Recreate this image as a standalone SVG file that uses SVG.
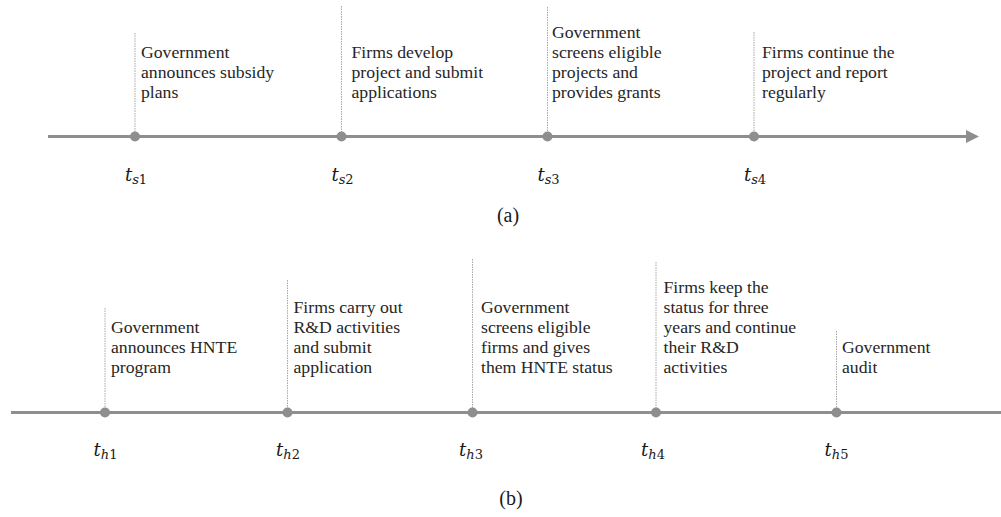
<svg xmlns="http://www.w3.org/2000/svg" width="1001" height="517" viewBox="0 0 1001 517">
<style>
.axis{stroke:#8e8e8e;stroke-width:3;fill:none}
.dot{fill:#8e8e8e}
.guide{stroke:#a8a8a8;stroke-width:1;stroke-dasharray:1.5 1;fill:none}
.lbl{font-family:"Liberation Serif","Times New Roman",serif;font-size:17.7px;fill:#262626}
.math{font-family:"DejaVu Serif",serif;font-size:18px;font-style:italic;fill:#1a1a1a}
.sub{font-size:13px}
.cap{font-family:"Liberation Serif","Times New Roman",serif;font-size:20px;fill:#1a1a1a;text-anchor:middle}
</style>
<defs>
<marker id="arr" markerWidth="14" markerHeight="14" refX="0" refY="6.5" orient="auto" markerUnits="userSpaceOnUse">
<path d="M0,0 L13,6.5 L0,13 Z" fill="#8e8e8e"/>
</marker>
</defs>
<g id="connectors">
<line class="axis" x1="48" y1="136.5" x2="966" y2="136.5" marker-end="url(#arr)"/>
<line class="axis" x1="11" y1="412.5" x2="1001" y2="412.5"/>
</g>
<g id="ts1">
<line class="guide" x1="135" y1="33" x2="135" y2="136"/>
<circle class="dot" cx="135" cy="136.5" r="5"/>
<text class="lbl"><tspan x="141" y="57.5">Government</tspan><tspan x="141" y="77.5">announces subsidy</tspan><tspan x="141" y="97.5">plans</tspan></text>
<text class="math" x="136" y="180.5" text-anchor="middle">t<tspan class="sub" dy="3">s<tspan font-style="normal">1</tspan></tspan></text>
</g>
<g id="ts2">
<line class="guide" x1="341.5" y1="6" x2="341.5" y2="136"/>
<circle class="dot" cx="341.5" cy="136.5" r="5"/>
<text class="lbl"><tspan x="351.5" y="57.5">Firms develop</tspan><tspan x="351.5" y="77.5">project and submit</tspan><tspan x="351.5" y="97.5">applications</tspan></text>
<text class="math" x="342.5" y="180.5" text-anchor="middle">t<tspan class="sub" dy="3">s<tspan font-style="normal">2</tspan></tspan></text>
</g>
<g id="ts3">
<line class="guide" x1="547.5" y1="7" x2="547.5" y2="136"/>
<circle class="dot" cx="547.5" cy="136.5" r="5"/>
<text class="lbl"><tspan x="552" y="37.5">Government</tspan><tspan x="552" y="57.5">screens eligible</tspan><tspan x="552" y="77.5">projects and</tspan><tspan x="552" y="97.5">provides grants</tspan></text>
<text class="math" x="548.5" y="180.5" text-anchor="middle">t<tspan class="sub" dy="3">s<tspan font-style="normal">3</tspan></tspan></text>
</g>
<g id="ts4">
<line class="guide" x1="754" y1="32" x2="754" y2="136"/>
<circle class="dot" cx="754" cy="136.5" r="5"/>
<text class="lbl"><tspan x="762" y="57.5">Firms continue the</tspan><tspan x="762" y="77.5">project and report</tspan><tspan x="762" y="97.5">regularly</tspan></text>
<text class="math" x="755" y="180.5" text-anchor="middle">t<tspan class="sub" dy="3">s<tspan font-style="normal">4</tspan></tspan></text>
</g>
<text id="cap-a" class="cap" x="508" y="222">(a)</text>
<g id="th1">
<line class="guide" x1="105" y1="308" x2="105" y2="412"/>
<circle class="dot" cx="105" cy="412.5" r="5"/>
<text class="lbl"><tspan x="111" y="332.5">Government</tspan><tspan x="111" y="352.5">announces HNTE</tspan><tspan x="111" y="372.5">program</tspan></text>
<text class="math" x="105.5" y="455.5" text-anchor="middle">t<tspan class="sub" dy="3">h<tspan font-style="normal">1</tspan></tspan></text>
</g>
<g id="th2">
<line class="guide" x1="287.5" y1="280" x2="287.5" y2="412"/>
<circle class="dot" cx="287.5" cy="412.5" r="5"/>
<text class="lbl"><tspan x="293.5" y="312.5">Firms carry out</tspan><tspan x="293.5" y="332.5">R&amp;D activities</tspan><tspan x="293.5" y="352.5">and submit</tspan><tspan x="293.5" y="372.5">application</tspan></text>
<text class="math" x="288" y="455.5" text-anchor="middle">t<tspan class="sub" dy="3">h<tspan font-style="normal">2</tspan></tspan></text>
</g>
<g id="th3">
<line class="guide" x1="472.5" y1="259" x2="472.5" y2="412"/>
<circle class="dot" cx="472.5" cy="412.5" r="5"/>
<text class="lbl"><tspan x="481" y="312.5">Government</tspan><tspan x="481" y="332.5">screens eligible</tspan><tspan x="481" y="352.5">firms and gives</tspan><tspan x="481" y="372.5">them HNTE status</tspan></text>
<text class="math" x="471" y="455.5" text-anchor="middle">t<tspan class="sub" dy="3">h<tspan font-style="normal">3</tspan></tspan></text>
</g>
<g id="th4">
<line class="guide" x1="656" y1="262" x2="656" y2="412"/>
<circle class="dot" cx="656" cy="412.5" r="5"/>
<text class="lbl"><tspan x="663.5" y="292.5">Firms keep the</tspan><tspan x="663.5" y="312.5">status for three</tspan><tspan x="663.5" y="332.5">years and continue</tspan><tspan x="663.5" y="352.5">their R&amp;D</tspan><tspan x="663.5" y="372.5">activities</tspan></text>
<text class="math" x="653" y="455.5" text-anchor="middle">t<tspan class="sub" dy="3">h<tspan font-style="normal">4</tspan></tspan></text>
</g>
<g id="th5">
<line class="guide" x1="836.5" y1="331" x2="836.5" y2="412"/>
<circle class="dot" cx="836.5" cy="412.5" r="5"/>
<text class="lbl"><tspan x="842" y="352.5">Government</tspan><tspan x="842" y="372.5">audit</tspan></text>
<text class="math" x="836.5" y="455.5" text-anchor="middle">t<tspan class="sub" dy="3">h<tspan font-style="normal">5</tspan></tspan></text>
</g>
<text id="cap-b" class="cap" x="511" y="505">(b)</text>
</svg>
